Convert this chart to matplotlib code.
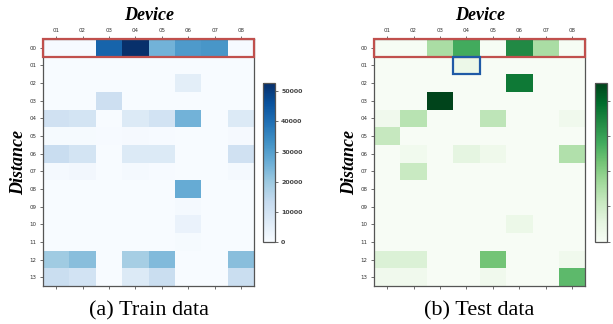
import matplotlib.pyplot as plt
import numpy as np
from matplotlib.patches import Rectangle

devices = ['01', '02', '03', '04', '05', '06', '07', '08']
distances = ['00', '01', '02', '03', '04', '05', '06', '07', '08', '09', '10', '11', '12', '13']

# train sample counts (rows = distance, cols = device)
train = np.array([
    [300, 300, 42000, 52700, 25500, 31000, 32000, 300],
    [200, 200, 200, 200, 200, 200, 200, 200],
    [0, 0, 0, 0, 0, 5500, 0, 0],
    [0, 0, 11500, 0, 0, 0, 0, 0],
    [10500, 9500, 0, 7000, 10000, 25500, 0, 7000],
    [600, 600, 300, 800, 300, 0, 0, 800],
    [12500, 9500, 0, 7000, 7000, 0, 0, 10500],
    [1000, 1600, 0, 1000, 300, 0, 0, 1000],
    [0, 0, 0, 0, 0, 27000, 0, 0],
    [0, 0, 0, 0, 0, 900, 0, 0],
    [0, 0, 0, 0, 0, 3500, 0, 0],
    [0, 0, 0, 0, 0, 500, 0, 0],
    [19500, 22500, 0, 18500, 23500, 0, 0, 22500],
    [12000, 10000, 0, 7000, 12000, 0, 0, 12000],
])

# test sample counts
test = np.array([
    [50, 50, 1550, 2800, 50, 3400, 1550, 50],
    [0, 0, 0, 350, 0, 0, 0, 0],
    [0, 0, 0, 0, 0, 3700, 0, 0],
    [0, 0, 4500, 0, 0, 0, 0, 0],
    [220, 1350, 0, 0, 1250, 0, 0, 220],
    [1150, 0, 0, 0, 0, 0, 0, 0],
    [0, 200, 0, 550, 280, 0, 0, 1450],
    [0, 1100, 0, 0, 0, 0, 0, 0],
    [0, 0, 0, 0, 0, 0, 0, 0],
    [0, 0, 0, 0, 0, 0, 0, 0],
    [0, 0, 0, 0, 0, 350, 0, 0],
    [0, 0, 0, 0, 0, 0, 0, 0],
    [750, 750, 0, 0, 2250, 0, 0, 220],
    [220, 220, 0, 0, 220, 0, 0, 2500],
])

train_ticks = [0, 10000, 20000, 30000, 40000, 50000]
test_ticks = [0, 1000, 2000, 3000, 4000]

fig = plt.figure(figsize=(6.13, 3.24), dpi=100)

panels = [
    (train, 'Blues', 52700, train_ticks, '(a) Train data', 0.0701, 0.4290, True),
    (test, 'Greens', 4500, test_ticks, '(b) Test data', 0.6101, 0.9706, False),
]

grey = '#555555'
serif = 'Liberation Serif'
for data, cmap, vmax, cticks, caption, x0, cx0, show_lbl in panels:
    ax = fig.add_axes([x0, 0.1173, 0.3448, 0.7623])
    mesh = ax.pcolormesh(data, cmap=cmap, vmin=0, vmax=vmax)
    ax.set_xlim(0, 8)
    ax.set_ylim(14, 0)
    ax.set_xticks(np.arange(8) + 0.5)
    ax.set_xticklabels(devices)
    ax.set_yticks(np.arange(14) + 0.5)
    ax.set_yticklabels(distances)
    ax.tick_params(axis='x', top=True, bottom=True, labeltop=True, labelbottom=False)
    ax.tick_params(length=2.5, width=0.6, color=grey, labelsize=4, labelcolor='#333333', pad=2)
    for s in ['left', 'right', 'bottom', 'top']:
        ax.spines[s].set_color(grey)
        ax.spines[s].set_linewidth(0.9)
    ax.add_patch(Rectangle((0, 0), 8, 1, fill=False, edgecolor='#c0504d',
                           linewidth=1.6, clip_on=False, zorder=5))
    if not show_lbl:
        ax.add_patch(Rectangle((3, 1), 1, 1, fill=False, edgecolor='#1f5aa6',
                               linewidth=1.6, clip_on=False, zorder=5))
    ax.set_title('Device', fontsize=13, family=serif, fontweight='bold',
                 style='italic', pad=14)
    ax.set_ylabel('Distance', fontsize=13, family=serif, fontweight='bold',
                  style='italic', labelpad=2)
    ax.text(0.5, -0.06, caption, transform=ax.transAxes, ha='center', va='top',
            fontsize=16, family=serif)

    cax = fig.add_axes([cx0, 0.254, 0.0196, 0.489])
    cb = fig.colorbar(mesh, cax=cax, ticks=cticks)
    cb.outline.set_edgecolor(grey)
    cb.outline.set_linewidth(0.9)
    cax.tick_params(length=2.5, width=0.6, color=grey, labelsize=4.5, labelcolor='#444444', pad=2)
    if show_lbl:
        for t in cax.get_yticklabels():
            t.set_fontweight('bold')
    else:
        # labels of the right colorbar fall outside the figure in the reference
        cax.set_yticklabels([])

fig.savefig('out.png', dpi=100)
